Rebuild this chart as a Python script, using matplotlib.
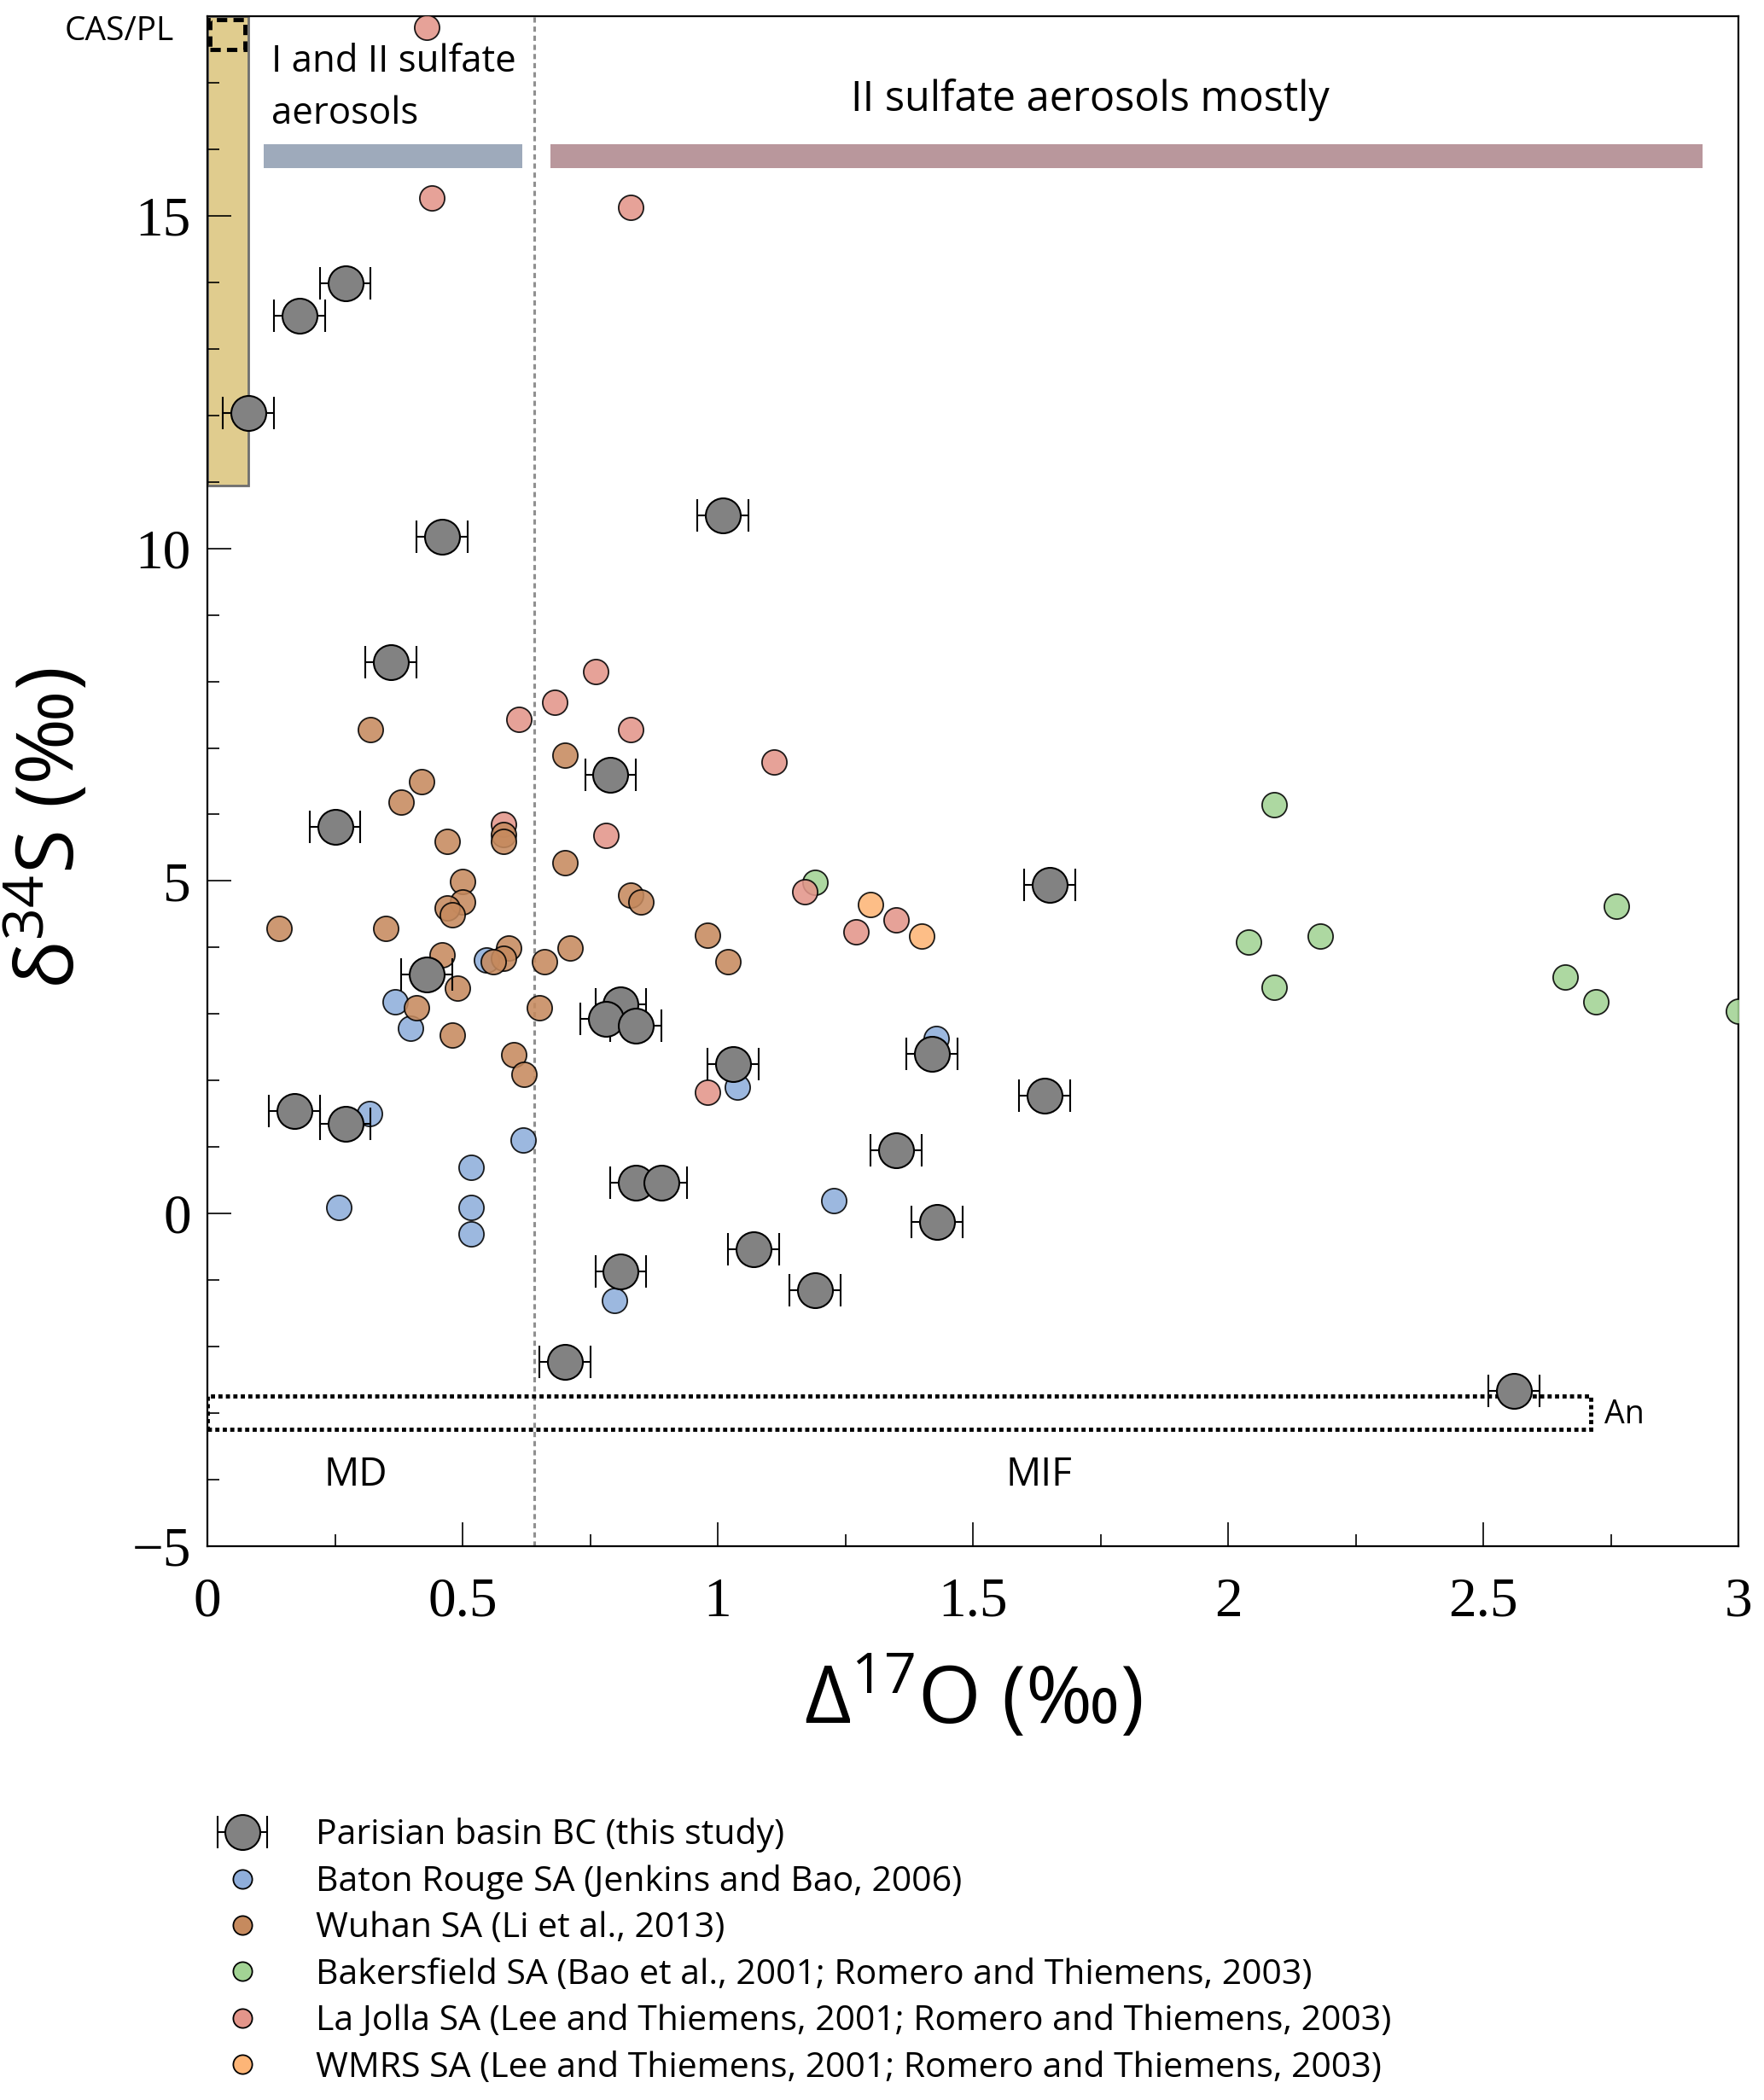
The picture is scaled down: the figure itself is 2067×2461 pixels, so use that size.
import matplotlib
matplotlib.use("Agg")
import matplotlib.pyplot as plt
from matplotlib.patches import Rectangle
from matplotlib.lines import Line2D
from matplotlib.ticker import MultipleLocator
from matplotlib.container import ErrorbarContainer
from matplotlib.legend_handler import HandlerErrorbar

plt.rcParams['font.family'] = ['Open Sans', 'DejaVu Sans']
plt.rcParams['mathtext.fontset'] = 'custom'
plt.rcParams['mathtext.rm'] = 'Open Sans'
plt.rcParams['mathtext.it'] = 'Open Sans:italic'

# Parisian basin BC (this study)
bc_x = [0.08, 0.18, 0.27, 0.46, 0.36, 0.79, 0.25, 0.43, 1.01, 1.65, 0.81, 0.78, 0.84, 1.03,
        1.42, 1.64, 0.17, 0.27, 1.35, 0.84, 0.89, 1.43, 1.07, 0.81, 1.19, 0.70, 2.56]
bc_y = [12.03, 13.50, 13.99, 10.17, 8.29, 6.59, 5.82, 3.60, 10.50, 4.94, 3.15, 2.93, 2.82, 2.25,
        2.40, 1.77, 1.54, 1.35, 0.95, 0.46, 0.46, -0.12, -0.53, -0.87, -1.15, -2.23, -2.67]
bc_err = 0.05

# Baton Rouge SA
br_x = [0.547, 0.368, 0.398, 0.317, 0.258, 0.517, 0.517, 0.517, 0.618, 0.798, 1.038, 1.228, 1.428]
br_y = [3.81, 3.18, 2.79, 1.50, 0.09, 0.70, 0.09, -0.30, 1.10, -1.30, 1.90, 0.20, 2.63]

# Wuhan SA
wu_x = [0.14, 0.32, 0.42, 0.38, 0.35, 0.47, 0.50, 0.50, 0.47, 0.48, 0.46, 0.49, 0.41, 0.48,
        0.58, 0.58, 0.59, 0.58, 0.56, 0.60, 0.62, 0.65, 0.66, 0.71, 0.70, 0.70, 0.83, 0.85, 0.98, 1.02]
wu_y = [4.29, 7.28, 6.49, 6.19, 4.29, 5.59, 4.99, 4.69, 4.60, 4.49, 3.89, 3.39, 3.09, 2.69,
        5.70, 5.59, 3.99, 3.84, 3.79, 2.39, 2.09, 3.09, 3.79, 3.99, 5.28, 6.89, 4.79, 4.69, 4.19, 3.79]

# Bakersfield SA
bk_x = [1.19, 2.09, 2.04, 2.18, 2.09, 2.76, 2.66, 2.72, 3.00]
bk_y = [4.98, 6.15, 4.08, 4.17, 3.40, 4.62, 3.56, 3.19, 3.04]

# La Jolla SA
lj_x = [0.43, 0.44, 0.83, 0.61, 0.68, 0.76, 0.83, 0.58, 0.78, 1.11, 1.17, 0.98, 1.27, 1.35]
lj_y = [17.83, 15.27, 15.12, 7.43, 7.69, 8.15, 7.27, 5.85, 5.69, 6.79, 4.84, 1.82, 4.23, 4.41]

# WMRS SA
wm_x = [1.30, 1.40]
wm_y = [4.65, 4.17]

labels = ['Parisian basin BC (this study)',
          'Baton Rouge SA (Jenkins and Bao, 2006)',
          'Wuhan SA (Li et al., 2013)',
          'Bakersfield SA (Bao et al., 2001; Romero and Thiemens, 2003)',
          'La Jolla SA (Lee and Thiemens, 2001; Romero and Thiemens, 2003)',
          'WMRS SA (Lee and Thiemens, 2001; Romero and Thiemens, 2003)']

# reference fields
boundary_x = 0.64
cas_pl = [0.0, 10.95, 0.08, 18.0]       # x0, y0, x1, y1
an_box = [0.0, -3.24, 2.71, -2.74]
bar_I_II = [0.11, 0.617]
bar_II = [0.672, 2.93]
bar_y = [15.72, 16.08]

c_blue = '#8FAEDB'
c_brown = '#C68A5E'
c_green = '#A2D394'
c_red = '#E3958A'
c_orange = '#FDB577'

fig = plt.figure(figsize=(20.67, 24.61), dpi=100)
ax = fig.add_axes([0.1176, 0.2637, 0.8679, 0.7286])

# background fields
ax.add_patch(Rectangle((cas_pl[0], cas_pl[1]), cas_pl[2] - cas_pl[0], cas_pl[3] - cas_pl[1],
                       facecolor='#E0CC8E', edgecolor='#6E6E6E', lw=2, zorder=1))
ax.add_patch(Rectangle((0.005, 17.5), 0.068, 0.45, facecolor='none', edgecolor='black',
                       lw=3.5, ls=(0, (2.5, 1.5)), zorder=2))
ax.add_patch(Rectangle((an_box[0], an_box[1]), an_box[2] - an_box[0], an_box[3] - an_box[1],
                       facecolor='none', edgecolor='black', lw=3.5, ls=(0, (1, 0.8)), zorder=2))
ax.fill_between(bar_I_II, bar_y[0], bar_y[1], color='#9EAABB', lw=0, zorder=1)
ax.fill_between(bar_II, bar_y[0], bar_y[1], color='#B9979C', lw=0, zorder=1)
ax.axvline(boundary_x, color='#909090', lw=2.2, ls=(0, (2, 1.5)), zorder=1)

ms = 21
kw = dict(ls='none', marker='o', ms=ms, mec='black', mew=1.3, alpha=0.88, zorder=3)
ax.plot(bk_x, bk_y, mfc=c_green, **kw)
ax.plot(lj_x, lj_y, mfc=c_red, **kw)
ax.plot(wm_x, wm_y, mfc=c_orange, **kw)
ax.plot(br_x, br_y, mfc=c_blue, **kw)
ax.plot(wu_x, wu_y, mfc=c_brown, **kw)

bc = ax.errorbar(bc_x, bc_y, xerr=bc_err, fmt='o', ms=29.5, mfc='#828282', mec='black', mew=1.5,
                 ecolor='black', elinewidth=1.5, capsize=13.5, capthick=1.5, zorder=5)

# annotations
ax.text(0.126, 17.6, 'I and II sulfate\naerosols', fontsize=31.5, ha='left', va='top',
        linespacing=1.5, zorder=4)
ax.text(1.73, 16.74, 'II sulfate aerosols mostly', fontsize=35, ha='center', va='center', zorder=4)
ax.text(-0.173, 17.77, 'CAS/PL', fontsize=28, ha='center', va='center', clip_on=False)
ax.text(2.737, -3.02, 'An', fontsize=27, ha='left', va='center')
ax.text(0.29, -3.93, 'MD', fontsize=33, ha='center', va='center')
ax.text(1.63, -3.93, 'MIF', fontsize=33, ha='center', va='center')

ax.set_xlim(0, 3)
ax.set_ylim(-5, 18)
ax.xaxis.set_major_locator(MultipleLocator(0.5))
ax.xaxis.set_minor_locator(MultipleLocator(0.25))
ax.yaxis.set_major_locator(MultipleLocator(5))
ax.yaxis.set_minor_locator(MultipleLocator(1))
ax.set_xticks([0, 0.5, 1, 1.5, 2, 2.5, 3])
ax.set_xticklabels(['0', '0.5', '1', '1.5', '2', '2.5', '3'])
ax.tick_params(which='both', direction='in', top=False, right=False, width=1.2)
ax.tick_params(which='major', length=20, labelsize=47, pad=14)
ax.tick_params(which='minor', length=10)
ax.tick_params(axis='x', which='major', pad=26)
for lab in ax.get_xticklabels() + ax.get_yticklabels():
    lab.set_family(['Liberation Serif', 'DejaVu Serif'])
for sp in ax.spines.values():
    sp.set_linewidth(1.6)

ax.set_xlabel(r'Δ$^{17}$O (‰)', fontsize=68)
ax.xaxis.set_label_coords(0.5, -0.072)
ax.set_ylabel(r'δ$^{34}$S (‰)', fontsize=68)
ax.yaxis.set_label_coords(-0.075, 0.469)

# legend
h_small = [Line2D([], [], ls='none', marker='o', ms=16, mec='black', mew=1.3, mfc=c)
           for c in [c_blue, c_brown, c_green, c_red, c_orange]]
fig.legend([bc] + h_small, labels, loc='upper left', bbox_to_anchor=(0.1245, 0.1345),
           frameon=False, fontsize=29.5, handlelength=1.3, handletextpad=1.45,
           labelspacing=0.34, borderpad=0, borderaxespad=0,
           handler_map={ErrorbarContainer: HandlerErrorbar(xerr_size=0.7)})

fig.savefig('out.png', dpi=100)
